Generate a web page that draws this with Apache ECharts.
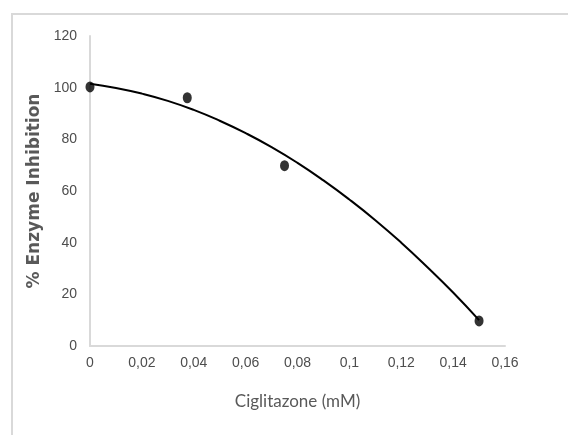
<!DOCTYPE html>
<html>
<head>
<meta charset="utf-8">
<script src="https://cdn.jsdelivr.net/npm/echarts@6/dist/echarts.min.js"></script>
<style>
  html, body { margin: 0; padding: 0; background: #fff; }
  #chart { width: 568px; height: 435px; }
</style>
</head>
<body>
<div id="chart"></div>
<script>
  // measured points
  const doseX = [0, 0.0375, 0.075, 0.15];
  const inhibition = [100.3, 96.1, 69.8, 9.7];

  // trendline
  const trendX = [0, 0.01, 0.02, 0.03, 0.04, 0.05, 0.06, 0.07, 0.08, 0.09, 0.10, 0.11, 0.12, 0.13, 0.14, 0.15];
  const trendY = [101.5, 99.9, 97.7, 94.9, 91.4, 87.2, 82.4, 77.0, 70.9, 64.1, 56.7, 48.7, 40.0, 30.6, 20.7, 10.0];

  const chart = echarts.init(document.getElementById('chart'));

  const labelStyle = {
    color: '#4d4d4d',
    fontFamily: 'Liberation Sans',
    fontSize: 14
  };

  chart.setOption({
    animation: false,
    graphic: [{
      type: 'rect',
      shape: { x: 12, y: 14, width: 700, height: 600 },
      style: { fill: 'none', stroke: '#d9d9d9', lineWidth: 2 },
      silent: true
    }],
    grid: { left: 90, right: 63, top: 36, bottom: 89 },
    xAxis: {
      type: 'value',
      min: 0,
      max: 0.16,
      interval: 0.02,
      name: 'Ciglitazone (mM)',
      nameLocation: 'middle',
      nameGap: 47,
      nameTextStyle: { color: '#595959', fontFamily: 'Lato', fontSize: 17 },
      axisLine: { show: true, lineStyle: { color: '#d9d9d9', width: 2 } },
      axisTick: { show: false },
      splitLine: { show: false },
      axisLabel: Object.assign({
        margin: 10,
        formatter: v => String(+v.toFixed(2)).replace('.', ',')
      }, labelStyle)
    },
    yAxis: {
      type: 'value',
      min: 0,
      max: 120,
      interval: 20,
      name: '% Enzyme Inhibition',
      nameLocation: 'middle',
      nameGap: 40,
      nameTextStyle: { color: '#595959', fontFamily: 'DejaVu Sans', fontWeight: 'bold', fontSize: 17 },
      axisLine: { show: true, lineStyle: { color: '#d9d9d9', width: 2 } },
      axisTick: { show: false },
      splitLine: { show: false },
      axisLabel: Object.assign({ margin: 13 }, labelStyle)
    },
    series: [
      {
        type: 'line',
        data: trendX.map((x, i) => [x, trendY[i]]),
        smooth: true,
        showSymbol: false,
        lineStyle: { color: '#000', width: 2 },
        z: 2
      },
      {
        type: 'scatter',
        data: doseX.map((x, i) => [x, inhibition[i]]),
        symbol: 'circle',
        symbolSize: [9, 11],
        itemStyle: { color: '#000' },
        z: 3
      }
    ]
  });
</script>
</body>
</html>
